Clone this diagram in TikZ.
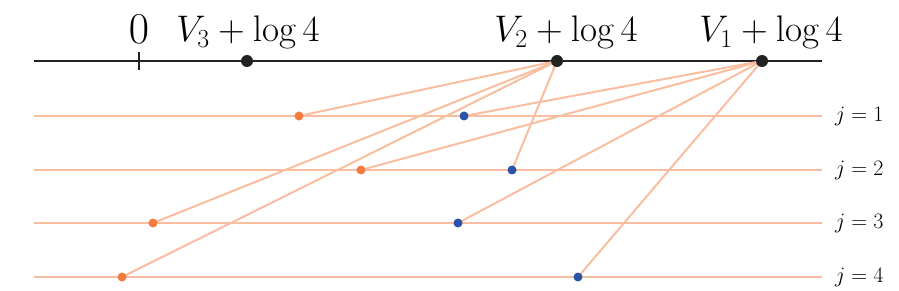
\RequirePackage{fix-cm}
\documentclass[tikz,border=0pt]{standalone}
\definecolor{lineor}{HTML}{F9BD9F}
\definecolor{dotor}{HTML}{F47B3F}
\definecolor{dotbl}{HTML}{2B53A7}
\definecolor{axisc}{HTML}{222222}
\tikzset{
  rowline/.style={draw=lineor, line width=2pt},
  conn/.style={draw=lineor, line width=2pt},
  axisline/.style={draw=axisc, line width=2pt},
  bdot/.style={circle, fill=axisc, inner sep=0pt, minimum size=12pt},
  odot/.style={circle, fill=dotor, inner sep=0pt, minimum size=9pt},
  ldot/.style={circle, fill=dotbl, inner sep=0pt, minimum size=9pt},
  toplab/.style={font=\fontsize{37}{40}\selectfont, inner sep=0pt, anchor=base},
  zerolab/.style={font=\fontsize{44}{48}\selectfont, inner sep=0pt, anchor=base},
  jlab/.style={font=\fontsize{22}{24}\selectfont, inner sep=0pt, anchor=west},
}
\begin{document}
\begin{tikzpicture}[x=1pt,y=-1pt]
\useasboundingbox (0,0) rectangle (899,291);
% axis
\coordinate (axL) at (34,61);
\coordinate (axR) at (822,61);
\draw[axisline] (axL) -- (axR);
\coordinate (t0a) at (139,52);
\coordinate (t0b) at (139,70);
\draw[draw=axisc, line width=1.5pt] (t0a) -- (t0b);
% V points
\coordinate (v3) at (247,61);
\coordinate (v2) at (557,61);
\coordinate (v1) at (762,61);
% rows
\foreach \j/\y in {1/116,2/170,3/223,4/277}{
  \coordinate (r\j L) at (34,\y);
  \coordinate (r\j R) at (822,\y);
  \draw[rowline] (r\j L) -- (r\j R);
  \node[jlab] (lab\j) at (835,\y) {$j=\j$};
}
% dot positions
\coordinate (o1) at (299,116);
\coordinate (o2) at (361,170);
\coordinate (o3) at (153,223);
\coordinate (o4) at (122,277);
\coordinate (b1) at (464,116);
\coordinate (b2) at (512,170);
\coordinate (b3) at (458,223);
\coordinate (b4) at (578,277);
% connectors
\draw[conn] (o1) -- (v2);
\draw[conn] (o3) -- (v2);
\draw[conn] (o4) -- (v2);
\draw[conn] (b2) -- (v2);
\draw[conn] (o2) -- (v1);
\draw[conn] (b1) -- (v1);
\draw[conn] (b3) -- (v1);
\draw[conn] (b4) -- (v1);
% dots
\foreach \n in {o1,o2,o3,o4}{\node[odot] (d\n) at (\n) {};}
\foreach \n in {b1,b2,b3,b4}{\node[ldot] (d\n) at (\n) {};}
\node[bdot] (dv3) at (v3) {};
\node[bdot] (dv2) at (v2) {};
\node[bdot] (dv1) at (v1) {};
% top labels
\node[zerolab] (lab0) at (139,43.5) {$0$};
\node[toplab] (labv3) at (248,42) {$V_3+\log 4$};
\node[toplab] (labv2) at (566,42) {$V_2+\log 4$};
\node[toplab] (labv1) at (771,42) {$V_1+\log 4$};
\end{tikzpicture}
\end{document}
